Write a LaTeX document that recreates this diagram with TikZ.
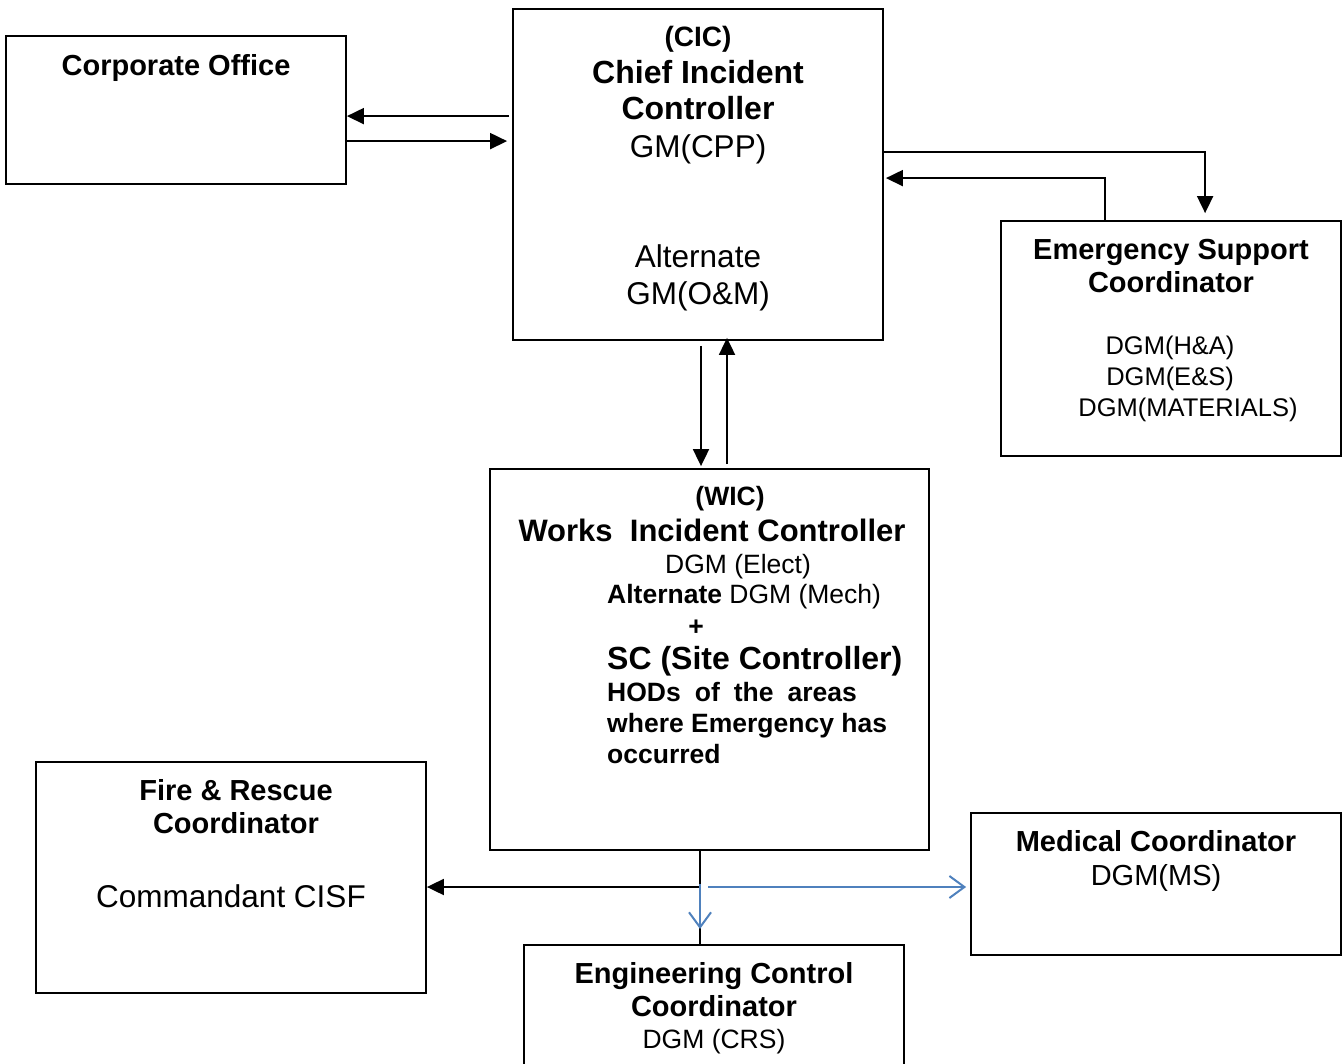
\documentclass[tikz,border=0pt]{standalone}
\usepackage{fontspec}
\setmainfont{Liberation Sans}
\usepackage{xcolor}
\usetikzlibrary{arrows.meta, calc}
\definecolor{linkblue}{RGB}{79,129,189}
\tikzstyle{box}=[rectangle, draw=black, line width=1.8pt, inner sep=0pt]
\tikzstyle{tb}=[anchor=base, inner sep=0pt, font=\fontsize{29}{35}\selectfont\bfseries]
\tikzstyle{tr}=[anchor=base, inner sep=0pt, font=\fontsize{26.5}{32}\selectfont]
\tikzstyle{arr}=[-{Triangle[length=17pt, width=16pt]}, line width=1.9pt]
\tikzstyle{barr}=[-{Straight Barb[length=15pt, width=22pt, line width=2pt]}, line width=2.2pt, color=linkblue]

\begin{document}
\begin{tikzpicture}[x=1pt, y=-1pt]
  \useasboundingbox (0,0) rectangle (1343,1064);
  % boxes
  \node[box, minimum width=340pt, minimum height=148pt] (corp) at (176,110) {};
  \node[box, minimum width=370pt, minimum height=331pt] (cic) at (698,174.5) {};
  \node[box, minimum width=340pt, minimum height=235pt] (esc) at (1171,338.5) {};
  \node[box, minimum width=439pt, minimum height=381pt] (wic) at (709.5,659.5) {};
  \node[box, minimum width=390pt, minimum height=231pt] (fire) at (231,877.5) {};
  \node[box, minimum width=370pt, minimum height=142pt] (med) at (1156,884) {};
  \node[box, minimum width=380pt, minimum height=140pt] (eng) at (714,1015) {};

  % texts
  \node[tb] (corpA) at (176,75.5) {Corporate Office};

  \node[tb, font=\fontsize{28}{34}\selectfont\bfseries] (cicA) at (698,47) {(CIC)};
  \node[tb, font=\fontsize{32}{38}\selectfont\bfseries] (cicB) at (698,83.5) {Chief Incident};
  \node[tb, font=\fontsize{32}{38}\selectfont\bfseries] (cicC) at (698,119.5) {Controller};
  \node[tr, font=\fontsize{31.5}{38}\selectfont] (cicD) at (698,157.5) {GM(CPP)};
  \node[tr, font=\fontsize{31.5}{38}\selectfont] (cicE) at (698,267.5) {Alternate};
  \node[tr, font=\fontsize{31.5}{38}\selectfont] (cicF) at (698,304.5) {GM(O\&M)};

  \node[tb] (escA) at (1171,259.5) {Emergency Support};
  \node[tb] (escB) at (1171,292.5) {Coordinator};
  \node[tr, font=\fontsize{25.5}{30}\selectfont] (escC) at (1170,355) {DGM(H\&A)};
  \node[tr, font=\fontsize{25.5}{30}\selectfont] (escD) at (1170,385) {DGM(E\&S)};
  \node[tr, font=\fontsize{25.5}{30}\selectfont] (escE) at (1188,416) {DGM(MATERIALS)};

  \node[tb, font=\fontsize{26.5}{32}\selectfont\bfseries] (wicA) at (730,505.5) {(WIC)};
  \node[tb, font=\fontsize{31}{37}\selectfont\bfseries] (wicB) at (712,541) {Works\ \ Incident Controller};
  \node[tr] (wicC) at (738,573.5) {DGM (Elect)};
  \node[tr, anchor=base west] (wicD) at (607,603.5) {\textbf{Alternate} DGM (Mech)};
  \node[tr, font=\fontsize{26.5}{32}\selectfont\bfseries] (wicE) at (696,635) {+};
  \node[tb, anchor=base west, font=\fontsize{32}{38}\selectfont\bfseries] (wicF) at (607,669.5) {SC (Site Controller)};
  \node[tr, anchor=base west, font=\fontsize{26.5}{32}\selectfont\bfseries] (wicG) at (607,701.5) {HODs\hspace{14pt}of\hspace{14pt}the\hspace{14pt}areas};
  \node[tr, anchor=base west, font=\fontsize{26.5}{32}\selectfont\bfseries] (wicH) at (607,732.5) {where Emergency has};
  \node[tr, anchor=base west, font=\fontsize{26.5}{32}\selectfont\bfseries] (wicI) at (607,763) {occurred};

  \node[tb] (fireA) at (236,800.5) {Fire \& Rescue};
  \node[tb] (fireB) at (236,833.5) {Coordinator};
  \node[tr, font=\fontsize{31.5}{38}\selectfont] (fireC) at (231,907) {Commandant CISF};

  \node[tb] (medA) at (1156,851.5) {Medical Coordinator};
  \node[tr, font=\fontsize{29}{35}\selectfont] (medB) at (1156,885.5) {DGM(MS)};

  \node[tb] (engA) at (714,983.5) {Engineering Control};
  \node[tb] (engB) at (714,1016.5) {Coordinator};
  \node[tr] (engC) at (714,1048.5) {DGM (CRS)};

  % connectors
  \draw[arr] ($(cic.north west)+(-3,108)$) -- ($(corp.north east)+(0,81)$);
  \draw[arr] ($(corp.north east)+(-2,106)$) -- ($(cic.north west)+(-5,133)$);
  \draw[arr] ($(cic.north east)+(0,144)$) -| ($(esc.north west)+(205,-7)$);
  \draw[arr] ($(esc.north west)+(105,0)$) |- ($(cic.north east)+(2,170)$);
  \draw[arr] ($(cic.south)+(3,5)$) -- ($(wic.north)+(-8.5,-2)$);
  \draw[arr] ($(wic.north)+(17.5,-4)$) -- ($(cic.south)+(29,-3)$);

  \coordinate (hub) at (700,887);
  \coordinate (tip) at (700,929);
  \draw[line width=1.9pt] (hub |- wic.south) -- (hub |- eng.north);
  \draw[arr] (hub) -- (fire.east |- hub);
  \draw[barr] ($(hub)+(8,0)$) -- ($(med.west |- hub)+(-4,0)$);
  \draw[barr] ($(hub)+(0,-3)$) -- (tip);
\end{tikzpicture}
\end{document}
